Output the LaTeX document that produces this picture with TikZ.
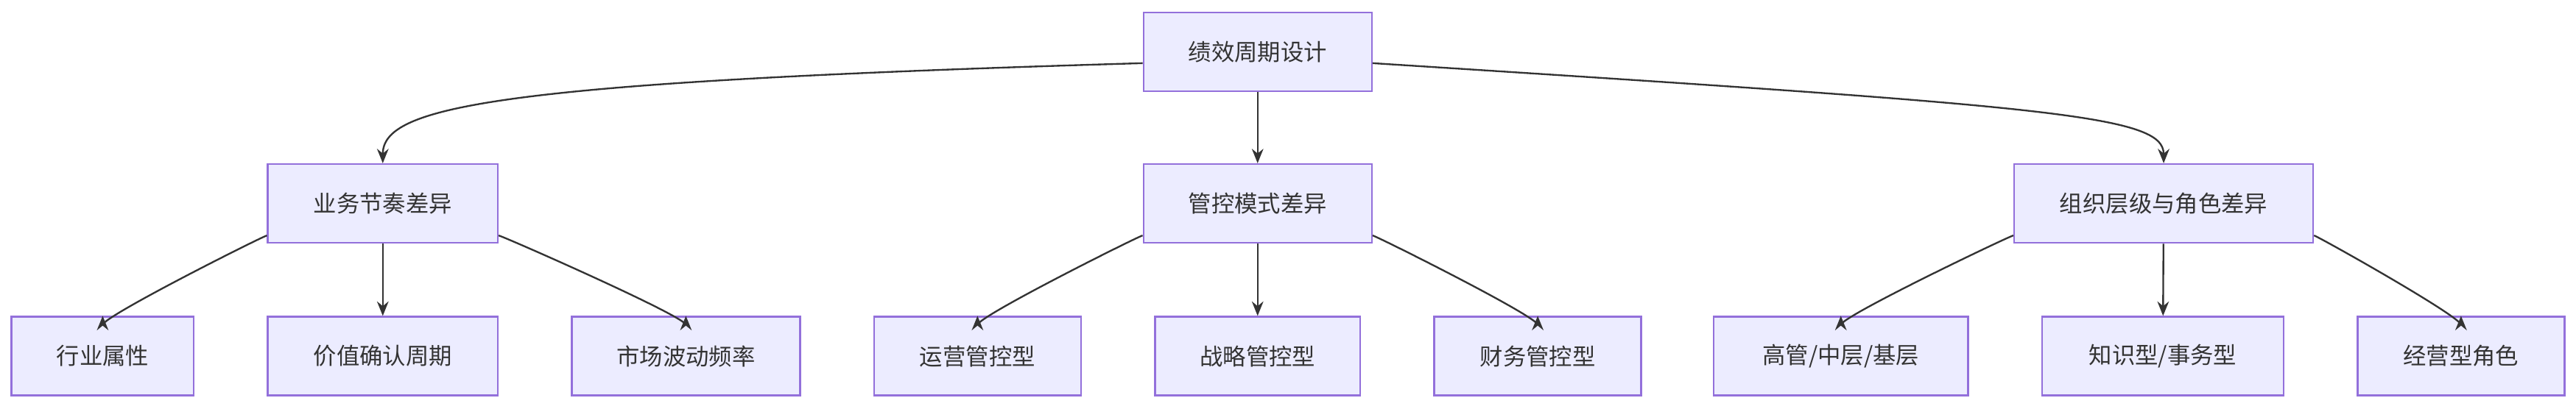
\documentclass[tikz,border=0pt]{standalone}
\usepackage{fontspec}
\setmainfont{Noto Sans CJK SC}
\usetikzlibrary{arrows.meta, positioning}
\definecolor{boxfill}{HTML}{ECECFF}
\definecolor{boxline}{HTML}{9370DB}
\definecolor{edgegray}{HTML}{333333}
\tikzset{
  box/.style={rectangle, draw=boxline, fill=boxfill, line width=0.6pt, minimum height=0.96cm, font=\fontsize{8}{10}\selectfont, text=edgegray, inner sep=0pt},
  link/.style={draw=edgegray, line width=0.6pt, -{Stealth[length=5pt,width=4pt]}},
}
\begin{document}
\begin{tikzpicture}[x=0.02cm, y=-0.02cm]
\useasboundingbox (0,0) rectangle (1568,249);
% top
\node[box, minimum width=2.78cm] (design) at (765.5,31.5) {绩效周期设计};
% second row
\node[box, minimum width=2.8cm] (rhythm) at (233,124) {业务节奏差异};
\node[box, minimum width=2.78cm] (control) at (765.5,124) {管控模式差异};
\node[box, minimum width=3.64cm] (level) at (1317,124) {组织层级与角色差异};
% third row
\node[box, minimum width=2.22cm] (industry) at (62.5,217) {行业属性};
\node[box, minimum width=2.8cm] (value) at (233,217) {价值确认周期};
\node[box, minimum width=2.78cm] (market) at (417.5,217) {市场波动频率};
\node[box, minimum width=2.52cm] (ops) at (595,217) {运营管控型};
\node[box, minimum width=2.5cm] (strategy) at (765.5,217) {战略管控型};
\node[box, minimum width=2.52cm] (finance) at (936,217) {财务管控型};
\node[box, minimum width=3.1cm] (tiers) at (1120.5,217) {高管/中层/基层};
\node[box, minimum width=2.94cm] (knowledge) at (1316.5,217) {知识型/事务型};
\node[box, minimum width=2.52cm] (business) at (1498,217) {经营型角色};
% edges
\draw[link] ([yshift=-0.14cm]design.west) .. controls (300,50) and (233,65) .. (rhythm.north);
\draw[link] (design) -- (control);
\draw[link] ([yshift=-0.14cm]design.east) .. controls (1250,65) and (1317,70) .. (level.north);
\foreach \p/\l/\r in {rhythm/industry/market, control/ops/finance, level/tiers/business}{
  \draw[link] ([yshift=0.1cm]\p.south west) .. controls +(-0.9,-0.35) and +(0,0.4) .. (\l.north);
  \draw[link] ([yshift=0.1cm]\p.south east) .. controls +(0.9,-0.35) and +(0,0.4) .. (\r.north);
}
\draw[link] (rhythm) -- (value);
\draw[link] (control) -- (strategy);
\draw[link] (level) -- (knowledge);
\end{tikzpicture}
\end{document}
